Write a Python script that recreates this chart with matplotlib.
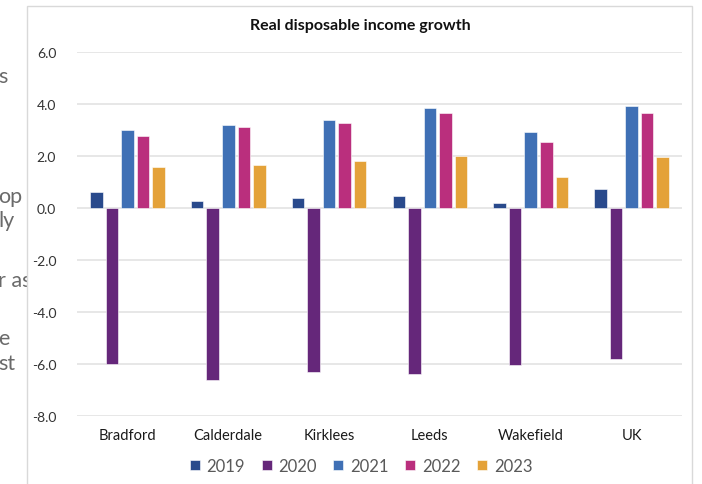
import matplotlib
matplotlib.use("Agg")
import matplotlib.pyplot as plt
from matplotlib.patches import Rectangle
import numpy as np

plt.rcParams['font.family'] = ['Lato', 'DejaVu Sans']

# Real disposable income growth (%) by area and year
areas = ["Bradford", "Calderdale", "Kirklees", "Leeds", "Wakefield", "UK"]
years = ["2019", "2020", "2021", "2022", "2023"]
growth_2019 = [0.60, 0.26, 0.38, 0.46, 0.18, 0.73]
growth_2020 = [-6.01, -6.62, -6.31, -6.40, -6.05, -5.83]
growth_2021 = [2.98, 3.19, 3.37, 3.85, 2.90, 3.90]
growth_2022 = [2.76, 3.11, 3.26, 3.63, 2.53, 3.65]
growth_2023 = [1.57, 1.64, 1.78, 1.97, 1.16, 1.95]
series = [growth_2019, growth_2020, growth_2021, growth_2022, growth_2023]
colors = ["#294a8c", "#65277a", "#3f70b5", "#ba2f7d", "#e4a239"]
y_ticks = [6, 4, 2, 0, -2, -4, -6, -8]

W, H = 702, 485
fig = plt.figure(figsize=(W / 100, H / 100), dpi=100)

# Text of the surrounding page, partly hidden behind the chart frame
side_text = [("s", 83), ("op", 203), ("ly", 227), ("r as", 287), ("e", 345), ("st", 370)]
for s, yb in side_text:
    fig.text(-2 / W, 1 - yb / H, s, fontsize=15.5, color="#6a6a6a",
             ha="left", va="baseline", zorder=0)

# White chart area with a light grey frame
frame = Rectangle((27 / W, -0.05), (692 - 27) / W, 1.05 - 7 / H,
                  transform=fig.transFigure, facecolor="white",
                  edgecolor="#d9d9d9", linewidth=1.0, zorder=1)
fig.patches.append(frame)

ax = fig.add_axes([77 / W, (H - 416.5) / H, 605 / W, (416.5 - 52.7) / H])
ax.set_zorder(2)
ax.patch.set_visible(False)

x = np.arange(len(areas))
pitch = 0.154
width = 0.124
for i, (vals, c, yr) in enumerate(zip(series, colors, years)):
    ax.bar(x + (i - 2) * pitch, vals, width, color=c, label=yr,
           edgecolor="white", linewidth=0.4, zorder=3)

ax.set_xlim(-0.5, len(areas) - 0.5)
ax.set_ylim(-8, 6)
ax.set_yticks(y_ticks)
ax.set_yticklabels([f"{v:.1f}" for v in y_ticks])
ax.grid(axis="y", color="#e3e3e3", linewidth=1.2, zorder=0)
ax.set_axisbelow(True)
for sp in ax.spines.values():
    sp.set_visible(False)
ax.tick_params(axis="y", length=0, pad=15, labelsize=10, labelcolor="#333333")
ax.tick_params(axis="x", length=0, pad=0, labelsize=10.5, labelcolor="#1a1a1a")
ax.set_xticks(x)
ax.set_xticklabels(areas)
for lbl in ax.get_xticklabels():
    lbl.set_y(-0.035)

fig.text(360 / W, 1 - 26 / H, "Real disposable income growth", ha="center",
         va="center", fontsize=11.5, fontweight="bold", color="#111111")

handles, labels = ax.get_legend_handles_labels()
leg = fig.legend(handles, labels, loc="center", ncol=5,
                 bbox_to_anchor=(361 / W, 1 - 467 / H), frameon=False,
                 fontsize=12, handlelength=0.6, handleheight=0.6,
                 handletextpad=0.4, columnspacing=1.0, borderaxespad=0)
for t in leg.get_texts():
    t.set_color("#595959")

fig.savefig("out.png", dpi=100)
